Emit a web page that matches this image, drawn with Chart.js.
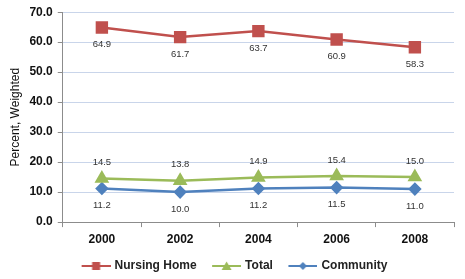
<!DOCTYPE html>
<html>
<head>
<meta charset="utf-8">
<script src="https://cdn.jsdelivr.net/npm/chart.js@4"></script>
<style>
  html, body { margin: 0; padding: 0; background: #fff; }
  #wrap { width: 465px; height: 279px; }
</style>
</head>
<body>
<div id="wrap"><canvas id="chart" width="465" height="279"></canvas></div>
<script>
const years = ['2000', '2002', '2004', '2006', '2008'];
const nursingHome = [64.9, 61.7, 63.7, 60.9, 58.3];
const total = [14.5, 13.8, 14.9, 15.4, 15.0];
const community = [11.2, 10.0, 11.2, 11.5, 11.0];

const RED = '#C0504D';
const GREEN = '#9BBB59';
const BLUE = '#4F81BD';
const FONT = "'Liberation Sans', Arial, sans-serif";

// line+marker swatch for the legend, with some empty room on the left
// so the items sit further apart
function legendSwatch(color, shape) {
    const c = document.createElement('canvas');
    c.width = 38;
    c.height = 12;
    const g = c.getContext('2d');
    g.strokeStyle = color;
    g.fillStyle = color;
    g.lineWidth = 2;
    g.beginPath();
    g.moveTo(9, 6);
    g.lineTo(38, 6);
    g.stroke();
    g.beginPath();
    const m = 23.5;
    if (shape === 'rect') {
        g.rect(m - 4, 2, 8, 8);
    } else if (shape === 'triangle') {
        g.moveTo(m, 1.5);
        g.lineTo(m + 5, 10);
        g.lineTo(m - 5, 10);
        g.closePath();
    } else {
        g.moveTo(m, 2);
        g.lineTo(m + 4, 6);
        g.lineTo(m, 10);
        g.lineTo(m - 4, 6);
        g.closePath();
    }
    g.fill();
    return c;
}

// value labels above / below each point
const valueLabels = {
    id: 'valueLabels',
    afterDatasetsDraw(chart) {
        const ctx = chart.ctx;
        ctx.save();
        ctx.font = '9.5px ' + FONT;
        ctx.fillStyle = '#333';
        ctx.textAlign = 'center';
        ctx.textBaseline = 'middle';
        chart.data.datasets.forEach((ds, i) => {
            const meta = chart.getDatasetMeta(i);
            meta.data.forEach((pt, j) => {
                ctx.fillText(ds.data[j].toFixed(1), pt.x, pt.y + ds.labelOffset);
            });
        });
        ctx.restore();
    }
};

const ctx = document.getElementById('chart').getContext('2d');
new Chart(ctx, {
    type: 'line',
    data: {
        labels: years,
        datasets: [
            {
                label: 'Nursing Home',
                data: nursingHome,
                borderColor: RED,
                backgroundColor: RED,
                pointStyle: 'rect',
                pointRadius: 7,
                borderWidth: 2.5,
                labelOffset: 17,
                swatch: legendSwatch(RED, 'rect')
            },
            {
                label: 'Total',
                data: total,
                borderColor: GREEN,
                backgroundColor: GREEN,
                pointStyle: 'triangle',
                pointRadius: 6,
                borderWidth: 2.5,
                labelOffset: -16,
                swatch: legendSwatch(GREEN, 'triangle')
            },
            {
                label: 'Community',
                data: community,
                borderColor: BLUE,
                backgroundColor: BLUE,
                pointStyle: 'rectRot',
                pointRadius: 5,
                borderWidth: 2.5,
                labelOffset: 17,
                swatch: legendSwatch(BLUE, 'diamond')
            }
        ]
    },
    options: {
        responsive: false,
        animation: false,
        layout: { padding: { top: 10, right: 11, left: 8, bottom: -3 } },
        plugins: {
            tooltip: { enabled: false },
            legend: {
                position: 'bottom',
                labels: {
                    usePointStyle: true,
                    pointStyleWidth: 34,
                    padding: 8.5,
                    color: '#222',
                    font: { family: FONT, size: 12, weight: 'bold' },
                    generateLabels: function(chart) {
                        return chart.data.datasets.map((ds, i) => ({
                            text: ds.label,
                            datasetIndex: i,
                            pointStyle: ds.swatch,
                            fillStyle: ds.borderColor,
                            strokeStyle: ds.borderColor,
                            lineWidth: 0,
                            fontColor: '#222',
                            hidden: false
                        }));
                    }
                }
            }
        },
        scales: {
            x: {
                offset: true,
                grid: {
                    offset: true,
                    drawOnChartArea: false,
                    tickLength: 5,
                    tickColor: '#8c8c8c'
                },
                border: { color: '#8c8c8c' },
                ticks: {
                    color: '#111',
                    padding: 5,
                    font: { family: FONT, size: 12, weight: 'bold' }
                }
            },
            y: {
                min: 0,
                max: 70,
                grid: {
                    color: '#C9D5EA',
                    tickLength: 5,
                    tickColor: '#8c8c8c'
                },
                border: { color: '#8c8c8c' },
                ticks: {
                    stepSize: 10,
                    color: '#111',
                    padding: 5,
                    font: { family: FONT, size: 12, weight: 'bold' },
                    callback: v => v.toFixed(1)
                },
                title: {
                    display: true,
                    text: 'Percent, Weighted',
                    color: '#111',
                    padding: { top: 0, bottom: 2 },
                    font: { family: FONT, size: 12 }
                }
            }
        }
    },
    plugins: [valueLabels]
});
</script>
</body>
</html>
